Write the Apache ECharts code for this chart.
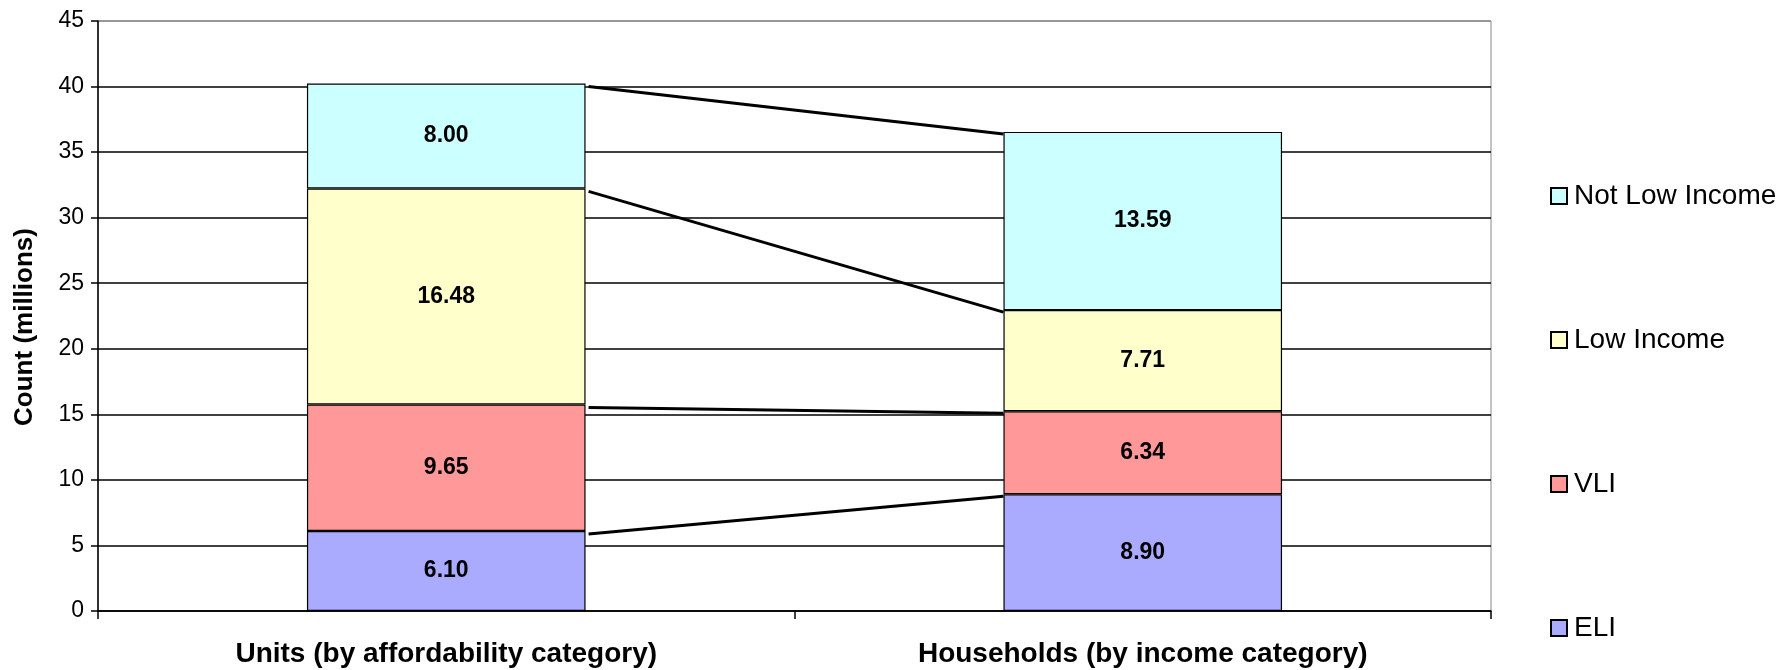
<!DOCTYPE html>
<html><head><meta charset="utf-8">
<script src="https://cdn.jsdelivr.net/npm/echarts@6/dist/echarts.min.js"></script>
<style>html,body{margin:0;padding:0;background:#fff}#c{width:1792px;height:670px}</style>
</head><body><div id="c"></div>
<script>
const categories = ['Units (by affordability category)', 'Households (by income category)'];
const seriesNames = ['ELI', 'VLI', 'Low Income', 'Not Low Income'];
const eli = [6.10, 8.90];
const vli = [9.65, 6.34];
const lowIncome = [16.48, 7.71];
const notLowIncome = [8.00, 13.59];
const yTicks = [0, 5, 10, 15, 20, 25, 30, 35, 40, 45];

const values = [eli, vli, lowIncome, notLowIncome];
const colors = ['#AAAAFF', '#FF9999', '#FFFFCC', '#CCFFFF'];

// cumulative tops for connector lines
const connectors = [];
let cumL = 0, cumR = 0;
values.forEach(v => { cumL += v[0]; cumR += v[1]; connectors.push([0, cumL, cumR]); });

const chart = echarts.init(document.getElementById('c'), null, {renderer: 'canvas'});
const FONT = '"Liberation Sans", Arial, sans-serif';
const barSeries = seriesNames.map((name, i) => ({
  name, type: 'bar', stack: 'total', barWidth: '40%',
  data: values[i],
  itemStyle: {color: colors[i], borderColor: '#000', borderWidth: 1.2},
  label: {show: true, position: 'inside', color: '#000', fontFamily: '"Liberation Sans Narrow", "Liberation Sans", Arial, sans-serif',
    fontWeight: 'bold', fontSize: 23, formatter: p => p.value.toFixed(2)},
  emphasis: {disabled: true}, animation: false
}));

const lineSeries = {
  type: 'custom', name: 'connectors', animation: false, silent: true, z: 5,
  encode: {x: 0, y: [1, 2]},
  data: connectors,
  renderItem: function (params, api) {
    const band = api.size([1, 0])[0];
    const p1 = api.coord([0, api.value(1)]);
    const p2 = api.coord([1, api.value(2)]);
    return {
      type: 'line',
      shape: {x1: p1[0] + 0.2 * band + 3, y1: p1[1] + 3, x2: p2[0] - 0.2 * band, y2: p2[1] + 2},
      style: {stroke: '#000', lineWidth: 3}
    };
  }
};

chart.setOption({
  animation: false,
  backgroundColor: '#fff',
  grid: {left: 98, top: 21, right: 301, bottom: 59, show: true, borderColor: '#888', borderWidth: 1},
  legend: {
    orient: 'vertical', left: 1545, top: 177, itemWidth: 16, itemHeight: 16, itemGap: 116,
    data: ['Not Low Income', 'Low Income', 'VLI', 'ELI'],
    textStyle: {fontFamily: FONT, fontSize: 28, color: '#000', padding: [0, 0, 0, 2]},
    icon: 'rect', selectedMode: false
  },
  xAxis: {
    type: 'category', data: categories,
    axisLine: {lineStyle: {color: '#000', width: 1.5}},
    axisTick: {show: true, length: 8, lineStyle: {color: '#000', width: 1.5}},
    axisLabel: {fontFamily: FONT, fontWeight: 'bold', fontSize: 28, color: '#000', margin: 29}
  },
  yAxis: {
    type: 'value', min: yTicks[0], max: yTicks[yTicks.length - 1], interval: 5,
    name: 'Count (millions)', nameLocation: 'middle', nameGap: 60,
    nameTextStyle: {fontFamily: FONT, fontWeight: 'bold', fontSize: 26, color: '#000', padding: [0, 22, 0, 0]},
    axisLine: {show: true, lineStyle: {color: '#000', width: 1.5}},
    axisTick: {show: true, length: 7, lineStyle: {color: '#000', width: 1.5}},
    axisLabel: {fontFamily: FONT, fontSize: 23, color: '#000', margin: 14},
    splitLine: {show: true, lineStyle: {color: ['#000','#000','#000','#000','#000','#000','#000','#000','#000','#888'], width: 1.5}}
  },
  series: [...barSeries, lineSeries]
});
</script></body></html>
